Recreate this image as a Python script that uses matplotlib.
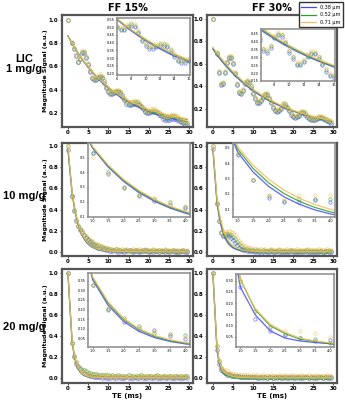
import matplotlib
matplotlib.use("Agg")
import matplotlib.pyplot as plt
from matplotlib.lines import Line2D

W, H = 345, 400

# echo times of the measured points (ms)
te = [0, 1.0, 1.5, 2.0, 2.5, 3.0, 3.5, 4.0, 4.5, 5.0, 5.5, 6.0, 6.5, 7.0, 7.5, 8.0, 8.5, 9.0, 9.5, 10.0,
      10.5, 11.0, 11.5, 12.0, 12.5, 13.0, 13.5, 14.0, 14.5, 15.0, 15.5, 16.0, 16.5, 17.0, 17.5, 18.0, 18.5,
      19.0, 19.5, 20.0, 20.5, 21.0, 21.5, 22.0, 22.5, 23.0, 23.5, 24.0, 24.5, 25.0, 25.5, 26.0, 26.5, 27.0,
      27.5, 28.0, 28.5, 29.0, 29.5]
# echo times where the fitted curves are given
te_fit_top = [0, 1, 2, 3, 4, 5, 6, 7, 8, 9, 10, 11, 12, 13, 14, 15, 16, 17, 18, 19, 20, 21, 22, 23, 24, 25,
              26, 27, 28, 29, 29.5]
te_fit_low = [0, 1, 1.5, 2, 2.5, 3, 3.5, 4, 4.5, 5, 5.5, 6, 7, 8, 10, 12, 15, 20, 25, 29.5]

sizes = ["0.38 µm", "0.52 µm", "0.71 µm"]
colors = ["#4646ff", "#2e9e2e", "#f4bd55"]

# ---- LIC 1 mg/g, FF 15% ----
a_blue = [1.00, 0.80, 0.75, 0.69, 0.64, 0.66, 0.71, 0.71, 0.67, 0.61, 0.55, 0.50, 0.48, 0.48, 0.50, 0.51, 0.50, 0.46, 0.41, 0.38,
          0.36, 0.36, 0.37, 0.38, 0.38, 0.37, 0.34, 0.31, 0.28, 0.27, 0.27, 0.28, 0.28, 0.28, 0.27, 0.25, 0.23, 0.21, 0.20, 0.20,
          0.21, 0.21, 0.21, 0.20, 0.18, 0.17, 0.15, 0.14, 0.14, 0.14, 0.15, 0.15, 0.15, 0.14, 0.13, 0.12, 0.11, 0.10, 0.10]
a_green = [1.00, 0.80, 0.76, 0.70, 0.64, 0.66, 0.72, 0.72, 0.68, 0.62, 0.56, 0.50, 0.49, 0.49, 0.51, 0.52, 0.51, 0.47, 0.42, 0.39,
           0.37, 0.37, 0.38, 0.39, 0.39, 0.38, 0.35, 0.32, 0.29, 0.28, 0.28, 0.29, 0.29, 0.29, 0.28, 0.26, 0.24, 0.22, 0.21, 0.21,
           0.22, 0.22, 0.22, 0.21, 0.20, 0.18, 0.17, 0.16, 0.16, 0.16, 0.17, 0.17, 0.17, 0.16, 0.15, 0.13, 0.12, 0.12, 0.11]
a_yellow = [1.00, 0.81, 0.76, 0.70, 0.65, 0.67, 0.73, 0.73, 0.69, 0.63, 0.57, 0.51, 0.50, 0.50, 0.52, 0.53, 0.52, 0.48, 0.43, 0.40,
            0.38, 0.38, 0.39, 0.40, 0.40, 0.39, 0.36, 0.33, 0.30, 0.29, 0.29, 0.30, 0.30, 0.30, 0.29, 0.27, 0.25, 0.23, 0.22, 0.22,
            0.23, 0.23, 0.23, 0.22, 0.21, 0.19, 0.18, 0.17, 0.17, 0.17, 0.18, 0.18, 0.18, 0.17, 0.16, 0.14, 0.13, 0.13, 0.12]
a_fit_blue = [0.860, 0.797, 0.740, 0.687, 0.637, 0.593, 0.550, 0.512, 0.476, 0.444, 0.413, 0.385, 0.360, 0.335, 0.313, 0.294,
              0.274, 0.257, 0.240, 0.226, 0.212, 0.200, 0.189, 0.177, 0.167, 0.158, 0.149, 0.141, 0.133, 0.127, 0.123]
a_fit_green = [0.860, 0.798, 0.741, 0.689, 0.640, 0.596, 0.554, 0.517, 0.482, 0.450, 0.420, 0.393, 0.368, 0.344, 0.323, 0.304,
               0.285, 0.269, 0.253, 0.239, 0.226, 0.215, 0.204, 0.193, 0.184, 0.175, 0.167, 0.160, 0.153, 0.147, 0.144]
a_fit_yellow = [0.860, 0.798, 0.742, 0.690, 0.641, 0.598, 0.556, 0.519, 0.484, 0.453, 0.423, 0.396, 0.372, 0.348, 0.327, 0.309,
                0.290, 0.274, 0.258, 0.245, 0.232, 0.221, 0.211, 0.200, 0.191, 0.183, 0.175, 0.168, 0.161, 0.156, 0.153]

# ---- LIC 1 mg/g, FF 30% ----
b_blue = [1.00, 0.69, 0.52, 0.41, 0.42, 0.52, 0.61, 0.65, 0.65, 0.60, 0.51, 0.41, 0.34, 0.33, 0.36, 0.42, 0.44, 0.43, 0.39, 0.33,
          0.29, 0.25, 0.25, 0.27, 0.30, 0.32, 0.32, 0.29, 0.25, 0.21, 0.18, 0.17, 0.18, 0.20, 0.23, 0.23, 0.21, 0.18, 0.15, 0.13,
          0.12, 0.13, 0.14, 0.16, 0.16, 0.15, 0.13, 0.11, 0.10, 0.10, 0.10, 0.11, 0.12, 0.12, 0.11, 0.10, 0.09, 0.08, 0.07]
b_green = [1.00, 0.70, 0.53, 0.42, 0.43, 0.53, 0.62, 0.66, 0.66, 0.61, 0.52, 0.42, 0.35, 0.34, 0.37, 0.43, 0.45, 0.44, 0.40, 0.34,
           0.30, 0.26, 0.26, 0.28, 0.31, 0.33, 0.33, 0.30, 0.26, 0.22, 0.19, 0.18, 0.19, 0.21, 0.24, 0.24, 0.22, 0.19, 0.16, 0.14,
           0.13, 0.14, 0.15, 0.17, 0.17, 0.16, 0.14, 0.12, 0.11, 0.11, 0.11, 0.12, 0.13, 0.13, 0.12, 0.11, 0.10, 0.09, 0.08]
b_yellow = [1.00, 0.71, 0.54, 0.43, 0.44, 0.54, 0.63, 0.67, 0.67, 0.62, 0.53, 0.43, 0.36, 0.35, 0.38, 0.44, 0.46, 0.45, 0.41, 0.35,
            0.31, 0.27, 0.27, 0.29, 0.32, 0.34, 0.34, 0.31, 0.27, 0.23, 0.20, 0.19, 0.20, 0.22, 0.25, 0.25, 0.23, 0.20, 0.17, 0.15,
            0.14, 0.15, 0.16, 0.18, 0.18, 0.17, 0.15, 0.13, 0.12, 0.12, 0.12, 0.13, 0.14, 0.14, 0.13, 0.12, 0.11, 0.10, 0.09]
b_fit_blue = [0.730, 0.680, 0.634, 0.591, 0.551, 0.514, 0.479, 0.447, 0.417, 0.389, 0.363, 0.338, 0.316, 0.294, 0.275, 0.257,
              0.239, 0.223, 0.208, 0.194, 0.181, 0.169, 0.157, 0.146, 0.136, 0.127, 0.118, 0.110, 0.102, 0.095, 0.092]
b_fit_green = [0.740, 0.690, 0.644, 0.601, 0.561, 0.523, 0.488, 0.455, 0.425, 0.396, 0.370, 0.345, 0.322, 0.300, 0.280, 0.262,
               0.244, 0.228, 0.212, 0.198, 0.185, 0.173, 0.161, 0.150, 0.140, 0.131, 0.122, 0.114, 0.106, 0.099, 0.096]
b_fit_yellow = [0.750, 0.700, 0.654, 0.611, 0.571, 0.533, 0.497, 0.464, 0.433, 0.404, 0.377, 0.352, 0.329, 0.307, 0.286, 0.268,
                0.250, 0.233, 0.217, 0.203, 0.190, 0.177, 0.165, 0.154, 0.144, 0.135, 0.126, 0.118, 0.110, 0.103, 0.100]

# ---- LIC 10 mg/g, FF 15% ----
c_blue = [0.96, 0.53, 0.39, 0.295, 0.24, 0.205, 0.175, 0.155, 0.13, 0.11, 0.09, 0.075, 0.06, 0.05, 0.04, 0.035, 0.03, 0.025, 0.02, 0.02,
          0.01, 0.01, 0.02, 0.01, 0.00, 0.01, 0.01, 0.00, 0.01, 0.02, 0.01, 0.00, 0.01, 0.01, 0.00, 0.01, 0.01, 0.02, 0.01, 0.00,
          0.01, 0.00, 0.01, 0.01, 0.00, 0.01, 0.01, 0.00, 0.01, 0.00, 0.01, 0.01, 0.00, 0.01, 0.00, 0.01, 0.01, 0.00, 0.00]
c_green = [1.00, 0.53, 0.40, 0.30, 0.245, 0.215, 0.20, 0.16, 0.14, 0.12, 0.10, 0.09, 0.075, 0.065, 0.06, 0.05, 0.045, 0.04, 0.035, 0.03,
           0.03, 0.02, 0.02, 0.03, 0.02, 0.02, 0.01, 0.02, 0.02, 0.01, 0.02, 0.01, 0.02, 0.02, 0.01, 0.01, 0.02, 0.01, 0.02, 0.01,
           0.01, 0.02, 0.01, 0.01, 0.02, 0.01, 0.01, 0.02, 0.01, 0.01, 0.01, 0.02, 0.01, 0.00, 0.01, 0.01, 0.02, 0.01, 0.01]
c_yellow = [1.00, 0.505, 0.39, 0.295, 0.245, 0.225, 0.19, 0.17, 0.15, 0.13, 0.11, 0.10, 0.085, 0.075, 0.065, 0.055, 0.05, 0.045, 0.04, 0.035,
            0.03, 0.03, 0.02, 0.03, 0.03, 0.02, 0.03, 0.02, 0.03, 0.02, 0.02, 0.03, 0.02, 0.02, 0.03, 0.02, 0.02, 0.03, 0.02, 0.02,
            0.02, 0.03, 0.02, 0.02, 0.01, 0.02, 0.02, 0.03, 0.02, 0.02, 0.01, 0.02, 0.02, 0.02, 0.01, 0.02, 0.02, 0.01, 0.02]
c_fit_blue = [0.96, 0.565, 0.437, 0.338, 0.261, 0.202, 0.156, 0.121, 0.093, 0.072, 0.056, 0.043, 0.026, 0.015, 0.005, 0.002, 0.0, 0.0, 0.0, 0.0]
c_fit_green = [0.98, 0.570, 0.444, 0.346, 0.269, 0.210, 0.163, 0.127, 0.099, 0.077, 0.060, 0.047, 0.028, 0.017, 0.006, 0.002, 0.0, 0.0, 0.0, 0.0]
c_fit_yellow = [1.00, 0.575, 0.450, 0.352, 0.276, 0.216, 0.169, 0.134, 0.105, 0.082, 0.064, 0.050, 0.031, 0.019, 0.007, 0.003, 0.001, 0.0, 0.0, 0.0]

# ---- LIC 10 mg/g, FF 30% ----
d_blue = [0.97, 0.45, 0.29, 0.175, 0.15, 0.15, 0.16, 0.145, 0.13, 0.11, 0.08, 0.06, 0.04, 0.03, 0.02, 0.015, 0.01, 0.01, 0.005, 0.005,
          0.00, 0.01, 0.00, -0.01, 0.00, 0.01, 0.00, 0.00, 0.01, 0.00, 0.00, 0.01, 0.00, 0.00, 0.00, 0.01, 0.00, 0.00, 0.01, 0.00,
          0.00, 0.00, 0.01, 0.00, 0.00, 0.01, 0.00, 0.00, 0.00, 0.01, 0.00, 0.00, 0.00, 0.01, 0.00, 0.00, 0.01, 0.00, 0.00]
d_green = [1.00, 0.46, 0.29, 0.185, 0.155, 0.17, 0.17, 0.165, 0.16, 0.14, 0.12, 0.09, 0.07, 0.05, 0.04, 0.03, 0.025, 0.02, 0.02, 0.015,
           0.01, 0.02, 0.01, 0.01, 0.02, 0.01, 0.01, 0.01, 0.02, 0.01, 0.01, 0.01, 0.02, 0.01, 0.01, 0.00, 0.01, 0.01, 0.02, 0.01,
           0.01, 0.01, 0.00, 0.01, 0.01, 0.01, 0.02, 0.01, 0.01, 0.00, 0.01, 0.01, 0.01, 0.01, 0.00, 0.01, 0.01, 0.01, 0.01]
d_yellow = [1.00, 0.46, 0.29, 0.19, 0.165, 0.19, 0.19, 0.195, 0.19, 0.18, 0.16, 0.13, 0.10, 0.08, 0.06, 0.05, 0.045, 0.04, 0.035, 0.03,
            0.03, 0.03, 0.02, 0.03, 0.02, 0.03, 0.02, 0.02, 0.03, 0.02, 0.02, 0.02, 0.03, 0.02, 0.02, 0.02, 0.03, 0.02, 0.02, 0.02,
            0.02, 0.03, 0.02, 0.02, 0.02, 0.02, 0.03, 0.02, 0.02, 0.02, 0.02, 0.02, 0.03, 0.02, 0.02, 0.02, 0.03, 0.02, 0.02]
d_fit_blue = [0.97, 0.470, 0.342, 0.249, 0.181, 0.132, 0.096, 0.070, 0.051, 0.037, 0.027, 0.020, 0.010, 0.005, 0.001, 0.0, 0.0, 0.0, 0.0, 0.0]
d_fit_green = [0.98, 0.490, 0.365, 0.272, 0.202, 0.151, 0.112, 0.083, 0.062, 0.046, 0.034, 0.026, 0.014, 0.008, 0.002, 0.001, 0.0, 0.0, 0.0, 0.0]
d_fit_yellow = [1.00, 0.506, 0.386, 0.295, 0.225, 0.171, 0.131, 0.100, 0.076, 0.058, 0.044, 0.034, 0.020, 0.011, 0.004, 0.001, 0.0, 0.0, 0.0, 0.0]

# ---- LIC 20 mg/g, FF 15% ----
e_blue = [1.00, 0.33, 0.205, 0.135, 0.10, 0.095, 0.06, 0.045, 0.035, 0.025, 0.02, 0.015, 0.01, 0.01, 0.005, 0.005, 0.0, 0.005, 0.0, 0.0,
          0.00, 0.01, 0.00, 0.00, 0.01, 0.00, -0.005, 0.00, 0.01, 0.00, 0.00, 0.00, 0.01, 0.00, 0.00, 0.01, 0.00, 0.00, 0.00, 0.01,
          0.00, 0.00, 0.01, 0.00, 0.00, 0.00, 0.01, 0.00, 0.00, 0.01, 0.00, 0.00, 0.00, 0.01, 0.00, 0.00, 0.00, 0.01, 0.00]
e_green = [1.00, 0.33, 0.20, 0.155, 0.115, 0.08, 0.075, 0.07, 0.06, 0.05, 0.045, 0.04, 0.04, 0.035, 0.03, 0.03, 0.03, 0.025, 0.03, 0.025,
           0.02, 0.03, 0.02, 0.02, 0.03, 0.02, 0.02, 0.01, 0.02, 0.03, 0.02, 0.02, 0.01, 0.02, 0.02, 0.03, 0.02, 0.01, 0.02, 0.02,
           0.02, 0.01, 0.02, 0.03, 0.02, 0.01, 0.02, 0.02, 0.01, 0.02, 0.02, 0.01, 0.02, 0.02, 0.01, 0.02, 0.01, 0.02, 0.02]
e_yellow = [1.00, 0.33, 0.21, 0.15, 0.11, 0.09, 0.065, 0.055, 0.045, 0.04, 0.035, 0.03, 0.03, 0.025, 0.025, 0.02, 0.02, 0.02, 0.025, 0.02,
            0.02, 0.01, 0.02, 0.02, 0.01, 0.02, 0.02, 0.02, 0.01, 0.02, 0.02, 0.01, 0.02, 0.02, 0.02, 0.01, 0.02, 0.02, 0.01, 0.02,
            0.02, 0.02, 0.01, 0.02, 0.02, 0.01, 0.02, 0.02, 0.02, 0.01, 0.02, 0.02, 0.01, 0.02, 0.02, 0.01, 0.02, 0.02, 0.01]
e_fit_blue = [0.99, 0.355, 0.222, 0.138, 0.086, 0.054, 0.034, 0.021, 0.013, 0.008, 0.005, 0.003, 0.001, 0.0, 0.0, 0.0, 0.0, 0.0, 0.0, 0.0]
e_fit_green = [1.00, 0.365, 0.233, 0.148, 0.095, 0.060, 0.038, 0.025, 0.016, 0.010, 0.006, 0.004, 0.002, 0.001, 0.0, 0.0, 0.0, 0.0, 0.0, 0.0]
e_fit_yellow = [1.00, 0.370, 0.240, 0.155, 0.100, 0.066, 0.043, 0.028, 0.018, 0.012, 0.008, 0.005, 0.002, 0.001, 0.0, 0.0, 0.0, 0.0, 0.0, 0.0]

# ---- LIC 20 mg/g, FF 30% ----
f_blue = [1.00, 0.27, 0.13, 0.075, 0.06, 0.045, 0.03, 0.036, 0.025, 0.02, 0.02, 0.015, 0.015, 0.01, 0.01, 0.01, 0.01, 0.01, 0.005, 0.01,
          0.01, 0.01, 0.00, 0.01, 0.01, 0.01, 0.00, 0.01, 0.01, 0.00, 0.01, 0.01, 0.01, 0.00, 0.01, 0.01, 0.00, 0.01, 0.01, 0.01,
          0.00, 0.01, 0.01, 0.00, 0.01, 0.01, 0.01, 0.00, 0.01, 0.01, 0.00, 0.01, 0.01, 0.01, 0.00, 0.01, 0.01, 0.00, 0.01]
f_green = [1.00, 0.30, 0.165, 0.095, 0.065, 0.045, 0.04, 0.025, 0.02, 0.02, 0.015, 0.015, 0.01, 0.01, 0.01, 0.01, 0.005, 0.01, 0.005, 0.01,
           0.01, 0.00, 0.01, 0.01, 0.00, 0.01, 0.00, 0.01, 0.01, 0.00, 0.01, 0.00, 0.01, 0.01, 0.00, 0.01, 0.01, 0.00, 0.01, 0.00,
           0.01, 0.01, 0.00, 0.01, 0.00, 0.01, 0.01, 0.00, 0.01, 0.00, 0.01, 0.00, 0.01, 0.01, 0.00, 0.01, 0.00, 0.01, 0.00]
f_yellow = [1.00, 0.305, 0.17, 0.10, 0.075, 0.075, 0.068, 0.05, 0.045, 0.04, 0.035, 0.03, 0.03, 0.03, 0.025, 0.03, 0.025, 0.025, 0.02, 0.025,
            0.02, 0.03, 0.02, 0.02, 0.03, 0.02, 0.02, 0.02, 0.03, 0.02, 0.02, 0.02, 0.03, 0.02, 0.02, 0.03, 0.02, 0.02, 0.02, 0.03,
            0.02, 0.02, 0.02, 0.03, 0.02, 0.02, 0.02, 0.03, 0.02, 0.02, 0.02, 0.03, 0.02, 0.02, 0.02, 0.02, 0.03, 0.02, 0.02]
f_fit_blue = [0.99, 0.270, 0.148, 0.077, 0.045, 0.032, 0.025, 0.020, 0.014, 0.010, 0.007, 0.005, 0.002, 0.001, 0.0, 0.0, 0.0, 0.0, 0.0, 0.0]
f_fit_green = [1.00, 0.306, 0.170, 0.100, 0.065, 0.040, 0.030, 0.020, 0.014, 0.010, 0.007, 0.005, 0.002, 0.001, 0.0, 0.0, 0.0, 0.0, 0.0, 0.0]
f_fit_yellow = [1.00, 0.305, 0.175, 0.107, 0.070, 0.045, 0.032, 0.024, 0.017, 0.012, 0.009, 0.006, 0.003, 0.001, 0.0, 0.0, 0.0, 0.0, 0.0, 0.0]

col_titles = ["FF 15%", "FF 30%"]
row_titles = ["LIC\n1 mg/g", "10 mg/g", "20 mg/g"]


def rect(x0, y0, x1, y1):
    # pixel box (top-left origin) -> figure fraction
    return [x0 / W, 1 - y1 / H, (x1 - x0) / W, (y1 - y0) / H]


def draw_series(ax, pts, fits, tfit, ms=2.6):
    for p, f, c in zip(pts, fits, colors):
        ax.plot(tfit, f, color=c, lw=0.9, alpha=0.85)
        ax.plot(te, p, "o", mfc="none", mec=c, ms=ms, mew=0.5, alpha=0.75)


def style(ax, lw, ec, fs, bold):
    for s in ax.spines.values():
        s.set_linewidth(lw)
        s.set_edgecolor(ec)
    ax.tick_params(labelsize=fs, length=1.5, width=0.5, pad=1)
    if bold:
        for lab in ax.get_xticklabels() + ax.get_yticklabels():
            lab.set_fontweight("bold")


panels = [
    dict(box=(62, 15, 193, 127), ibox=(117, 18, 190, 75),
         pts=[a_blue, a_green, a_yellow], fits=[a_fit_blue, a_fit_green, a_fit_yellow], tf=te_fit_top,
         ylim=(0.08, 1.04), yt=[0.2, 0.4, 0.6, 0.8, 1.0],
         ixlim=(6, 16.2), iylim=(0.19, 0.56), ixt=[6, 8, 10, 12, 14, 16],
         iyt=[0.20, 0.25, 0.30, 0.35, 0.40, 0.45, 0.50, 0.55]),
    dict(box=(207, 15, 337, 127), ibox=(261, 29, 335, 81),
         pts=[b_blue, b_green, b_yellow], fits=[b_fit_blue, b_fit_green, b_fit_yellow], tf=te_fit_top,
         ylim=(0.04, 1.035), yt=[0.2, 0.4, 0.6, 0.8, 1.0],
         ixlim=(6.2, 16.2), iylim=(0.15, 0.48), ixt=[8, 10, 12, 14, 16],
         iyt=[0.15, 0.20, 0.25, 0.30, 0.35, 0.40, 0.45]),
    dict(box=(62, 143, 193, 256), ibox=(88, 143, 190, 217),
         pts=[c_blue, c_green, c_yellow], fits=[c_fit_blue, c_fit_green, c_fit_yellow], tf=te_fit_low,
         ylim=(-0.04, 1.03), yt=[0.0, 0.2, 0.4, 0.6, 0.8, 1.0],
         ixlim=(0.85, 4.15), iylim=(0.095, 0.6), ixt=[1.0, 1.5, 2.0, 2.5, 3.0, 3.5, 4.0],
         iyt=[0.1, 0.2, 0.3, 0.4, 0.5]),
    dict(box=(207, 143, 337, 256), ibox=(233, 143, 335, 217),
         pts=[d_blue, d_green, d_yellow], fits=[d_fit_blue, d_fit_green, d_fit_yellow], tf=te_fit_low,
         ylim=(-0.04, 1.03), yt=[0.0, 0.2, 0.4, 0.6, 0.8, 1.0],
         ixlim=(0.85, 4.15), iylim=(0.05, 0.53), ixt=[1.0, 1.5, 2.0, 2.5, 3.0, 3.5, 4.0],
         iyt=[0.1, 0.2, 0.3, 0.4, 0.5]),
    dict(box=(62, 269, 193, 383), ibox=(88, 273, 190, 347),
         pts=[e_blue, e_green, e_yellow], fits=[e_fit_blue, e_fit_green, e_fit_yellow], tf=te_fit_low,
         ylim=(-0.05, 1.04), yt=[0.0, 0.2, 0.4, 0.6, 0.8, 1.0],
         ixlim=(0.85, 4.15), iylim=(0.005, 0.39), ixt=[1.0, 1.5, 2.0, 2.5, 3.0, 3.5, 4.0],
         iyt=[0.05, 0.10, 0.15, 0.20, 0.25, 0.30, 0.35]),
    dict(box=(207, 269, 337, 383), ibox=(236, 274, 334, 347),
         pts=[f_blue, f_green, f_yellow], fits=[f_fit_blue, f_fit_green, f_fit_yellow], tf=te_fit_low,
         ylim=(-0.05, 1.04), yt=[0.0, 0.2, 0.4, 0.6, 0.8, 1.0],
         ixlim=(0.85, 4.15), iylim=(0.005, 0.33), ixt=[1.0, 1.5, 2.0, 2.5, 3.0, 3.5, 4.0],
         iyt=[0.05, 0.10, 0.15, 0.20, 0.25, 0.30]),
]

fig = plt.figure(figsize=(W / 100, H / 100), dpi=100)
fig.patch.set_facecolor("white")

for i, p in enumerate(panels):
    ax = fig.add_axes(rect(*p["box"]))
    draw_series(ax, p["pts"], p["fits"], p["tf"])
    ax.set_xlim(-1.475, 30.975)
    ax.set_ylim(*p["ylim"])
    ax.set_xticks([0, 5, 10, 15, 20, 25, 30])
    ax.set_yticks(p["yt"])
    style(ax, 1.6, "#555555", 4, True)
    if i % 2 == 0:
        ax.set_ylabel("Magnitude Signal (a.u.)", fontsize=4.5, fontweight="bold", labelpad=0.5)
    if i >= 4:
        ax.set_xlabel("TE (ms)", fontsize=5, fontweight="bold", labelpad=1)

    ins = fig.add_axes(rect(*p["ibox"]))
    ins.set_facecolor("white")
    draw_series(ins, p["pts"], p["fits"], p["tf"], ms=2.4)
    ins.set_xlim(*p["ixlim"])
    ins.set_ylim(*p["iylim"])
    ins.set_xticks(p["ixt"])
    ins.set_yticks(p["iyt"])
    style(ins, 1.1, "#8a8a8a", 2.5, False)
    ins.tick_params(length=1, pad=0.8)

for j, t in enumerate(col_titles):
    fig.text([128, 272][j] / W, 1 - 8 / H, t, ha="center", va="center", fontsize=7, fontweight="bold")

for k, t in enumerate(row_titles):
    fig.text(24 / W, 1 - [64, 196, 327][k] / H, t, ha="center", va="center", fontsize=8,
             fontweight="bold", family=["Liberation Sans", "DejaVu Sans"], linespacing=1.1)

handles = [Line2D([0], [0], color=c, lw=0.9) for c in colors]
fig.legend(handles, sizes, loc="upper right", bbox_to_anchor=(1.0, 1.0), fontsize=3.5,
           handlelength=3, borderpad=0.5, labelspacing=0.5, frameon=True, fancybox=False,
           edgecolor="#333333", framealpha=1)

fig.savefig("out.png", dpi=100)
